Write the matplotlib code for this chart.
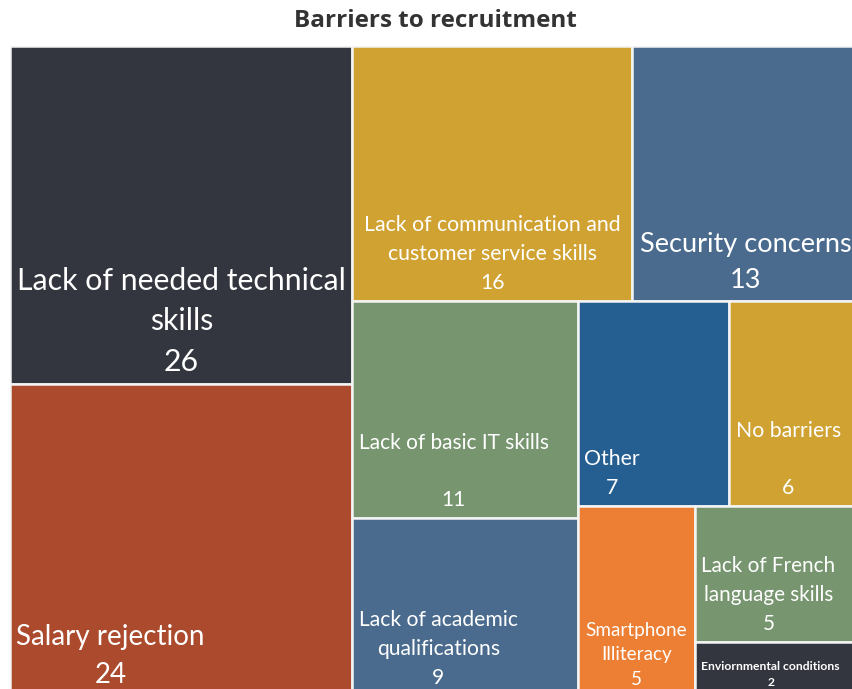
import matplotlib.pyplot as plt
from matplotlib.patches import Rectangle

# data (sorted largest first, as in the chart)
labels = [
    "Lack of needed technical\nskills",
    "Salary rejection",
    "Lack of communication and\ncustomer service skills",
    "Security concerns",
    "Lack of basic IT skills\n",
    "Lack of academic\nqualifications",
    "Other",
    "No barriers\n",
    "Smartphone\nIlliteracy",
    "Lack of French\nlanguage skills",
    "Enviornmental conditions",
]
values = [26, 24, 16, 13, 11, 9, 7, 6, 5, 5, 2]
colors = ["#33363f", "#ab4a2c", "#cfa232", "#4a6b8e", "#77966f", "#4a6b8e",
          "#255f91", "#cfa232", "#ec7f33", "#77966f", "#33363f"]

# label styling
font_sizes = [21.8, 20, 15.3, 19.5, 15, 15.2, 15.3, 15.3, 13.6, 14.9, 8.7]
centered = [True, False, True, True, False, False, False, False, True, False, False]
bold = [False] * 10 + [True]

W, H = 849.0, 650.0


def worst(row, side):
    s = sum(row)
    return max(max(side * side * r / (s * s), s * s / (side * side * r)) for r in row)


def layout_row(row, x, y, w, h):
    s = sum(row)
    out = []
    if w >= h:
        # column along the left
        cw = s / h
        yy = y
        for r in row:
            out.append((x, yy, cw, r / cw))
            yy += r / cw
        return out, (x + cw, y, w - cw, h)
    rh = s / w
    xx = x
    for r in row:
        out.append((xx, y, r / rh, rh))
        xx += r / rh
    return out, (x, y + rh, w, h - rh)


def squarify(vals, x, y, w, h):
    total = sum(vals)
    areas = [v * w * h / total for v in vals]
    rects = []
    rect = (x, y, w, h)
    i = 0
    while i < len(areas):
        side = min(rect[2], rect[3])
        row = [areas[i]]
        i += 1
        while i < len(areas) and worst(row + [areas[i]], side) <= worst(row, side):
            row.append(areas[i])
            i += 1
        out, rect = layout_row(row, *rect)
        rects += out
    return rects


rects = squarify(values, 0, 0, W, H)

fig = plt.figure(figsize=(8.52, 6.89), dpi=100)
ax = fig.add_axes([10 / 852, (689 - 46 - H) / 689, W / 852, H / 689])
ax.set_xlim(0, W)
ax.set_ylim(H, 0)
ax.axis("off")

for (x, y, w, h), lab, v, c, fs, cen, b in zip(rects, labels, values, colors,
                                              font_sizes, centered, bold):
    ax.add_patch(Rectangle((x, y), w, h, facecolor=c, edgecolor="#f4f4f4", lw=1.8))
    tx = x + w / 2 if cen else x + 6.5
    ax.text(tx, y + h - 8, f"{lab}\n{v}", ha="center" if cen else "left", va="bottom",
            multialignment="center", color="white", fontsize=fs, family="Lato",
            fontweight="bold" if b else "normal", linespacing=1.55)

fig.text(435 / 852, 1 - 21 / 689, "Barriers to recruitment", ha="center", va="center",
         fontsize=17.5, fontweight="bold", color="#333333", family="Open Sans")

fig.savefig("out.png", dpi=100)
